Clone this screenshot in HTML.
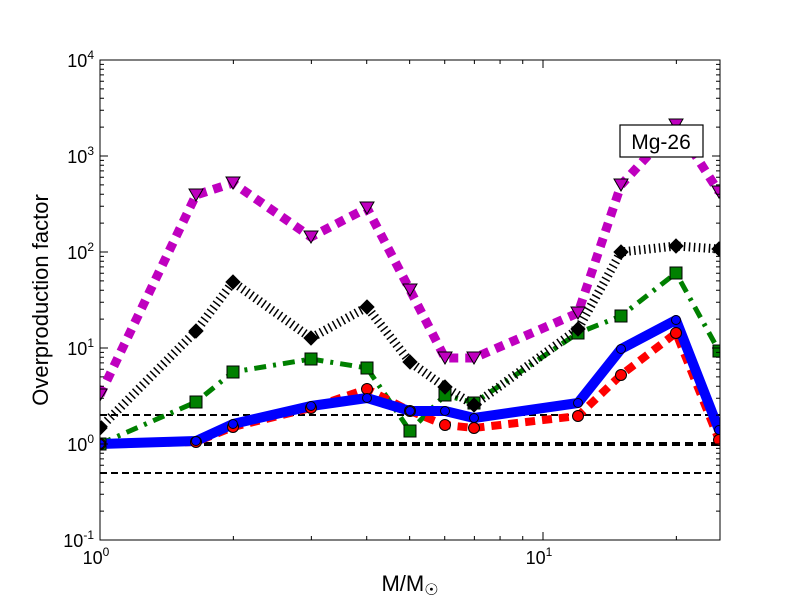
<!DOCTYPE html>
<html><head><meta charset="utf-8"><style>body{margin:0;background:#fff}svg{display:block}</style></head>
<body>
<svg id="s" width="800" height="600" xmlns="http://www.w3.org/2000/svg" font-family="Liberation Sans, sans-serif">
<defs><clipPath id="c"><rect x="100" y="60" width="620" height="480"/></clipPath></defs>
<rect width="800" height="600" fill="#fff"/>
<g id="lines" clip-path="url(#c)"></g>
<g id="marks" clip-path="url(#c)"></g>
<rect x="100" y="60" width="620" height="480" fill="none" stroke="#000" stroke-width="1"/>
<g id="ticks" stroke="#000" stroke-width="1"></g>
<g font-size="18" text-anchor="end">
<text x="94" y="67">10<tspan dy="-8" font-size="12">4</tspan></text>
<text x="94" y="163">10<tspan dy="-8" font-size="12">3</tspan></text>
<text x="94" y="259">10<tspan dy="-8" font-size="12">2</tspan></text>
<text x="94" y="355">10<tspan dy="-8" font-size="12">1</tspan></text>
<text x="94" y="451">10<tspan dy="-8" font-size="12">0</tspan></text>
<text x="94" y="547">10<tspan dy="-8" font-size="12">-1</tspan></text>
</g>
<g font-size="18" text-anchor="middle">
<text x="96" y="564">10<tspan dy="-8" font-size="12">0</tspan></text>
<text x="539" y="564">10<tspan dy="-8" font-size="12">1</tspan></text>
</g>
<text x="410" y="591" font-size="22" text-anchor="middle">M/M<tspan dy="4" font-size="16">☉</tspan></text>
<text transform="translate(48,300) rotate(-90)" font-size="22" text-anchor="middle">Overproduction factor</text>
<rect x="620" y="125" width="83" height="32" fill="#fff" stroke="#000" stroke-width="1.2"/>
<text x="661" y="149" font-size="21" text-anchor="middle">Mg-26</text>
</svg>
<script>
var NS="http://www.w3.org/2000/svg";
function el(p,t,a){var e=document.createElementNS(NS,t);for(var k in a)e.setAttribute(k,a[k]);document.getElementById(p).appendChild(e);return e;}
var tk="";
for(var d=-1;d<4;d++){for(var m=1;m<10;m++){var y=444-96*(d+Math.log10(m));var L=m==1?8:4;tk+="M100 "+y+"h"+L+"M720 "+y+"h-"+L;}}
tk+="M100 60h8M720 60h-8";
for(var d=0;d<2;d++){for(var m=1;m<10;m++){var x=100+443*(d+Math.log10(m));if(x>720)break;var L=m==1?8:4;tk+="M"+x+" 540v-"+L+"M"+x+" 60v"+L;}}
el("ticks","path",{d:tk,fill:"none"});
el("lines","line",{x1:100,x2:720,y1:415,y2:415,stroke:"#000","stroke-width":2,"stroke-dasharray":"7 4"});
el("lines","line",{x1:100,x2:720,y1:473,y2:473,stroke:"#000","stroke-width":2,"stroke-dasharray":"7 4"});
el("lines","line",{x1:100,x2:720,y1:444,y2:444,stroke:"#000","stroke-width":4,"stroke-dasharray":"8 5"});
var X=[100,196,233,311,367,410,445,474,578,621,676,719];
var S=[
{c:"#008000",w:5,d:"12 7 3 7",y:[444,402,372,359,368,431,395,403,333,316,273,351],m:"sq"},
{c:"#000",w:9,d:"1.5 3.5",y:[428,331,282,338,307,362,387,405,329,252,246,249],m:"di"},
{c:"#bf00bf",w:9,d:"9 7",y:[395,195,183,237,208,290,358,358,313,185,125,192],m:"tr"},
{c:"#ff0000",w:8,d:"10 7",y:[444,442,427,408,389,411,425,428,416,375,333,440],m:"ci"},
{c:"#0000ff",w:10,d:"",y:[444,441,424,406,398,411,411,418,403,349,320,430],m:"pe"}];
S.forEach(function(s){
 var p=X.map(function(x,i){return x+","+s.y[i]}).join(" ");
 var a={points:p,fill:"none",stroke:s.c,"stroke-width":s.w,"stroke-linejoin":"round"};
 if(s.d)a["stroke-dasharray"]=s.d;
 el("lines","polyline",a);
 X.forEach(function(x,i){var y=s.y[i];
  if(s.m=="sq")el("marks","rect",{x:x-6,y:y-6,width:12,height:12,fill:s.c,stroke:"#000"});
  if(s.m=="di")el("marks","polygon",{points:(x)+","+(y-7)+" "+(x+7)+","+y+" "+x+","+(y+7)+" "+(x-7)+","+y,fill:"#000",stroke:"#000"});
  if(s.m=="tr")el("marks","polygon",{points:(x-7)+","+(y-6)+" "+(x+7)+","+(y-6)+" "+x+","+(y+6),fill:s.c,stroke:"#000"});
  if(s.m=="ci")el("marks","circle",{cx:x,cy:y,r:5.5,fill:s.c,stroke:"#000"});
  if(s.m=="pe")el("marks","circle",{cx:x,cy:y,r:4.5,fill:s.c,stroke:"#000"});
 });
});
</script>
</body></html>
